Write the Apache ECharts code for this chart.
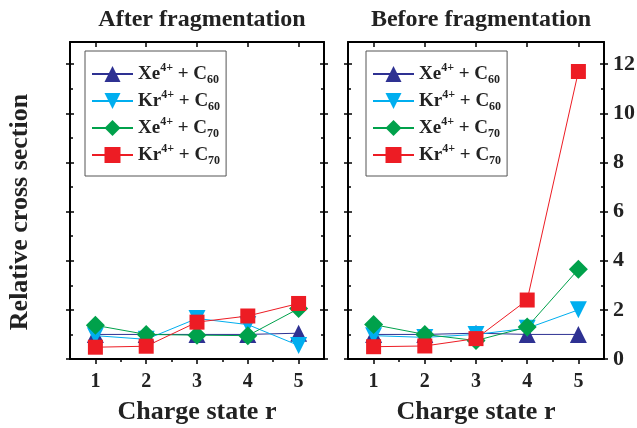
<!DOCTYPE html>
<html>
<head>
<meta charset="utf-8">
<script src="https://cdn.jsdelivr.net/npm/echarts@6/dist/echarts.min.js"></script>
<style>
  html, body { margin: 0; padding: 0; background: #fff; }
  #chart { width: 637px; height: 428px; }
</style>
</head>
<body>
<div id="chart"></div>
<script>
// data
var chargeStates = [1, 2, 3, 4, 5];
var xTickLabels = [1, 2, 3, 4, 5];
var yTickLabels = [0, 2, 4, 6, 8, 10, 12];
var seriesNames = ['Xe4+ + C60', 'Kr4+ + C60', 'Xe4+ + C70', 'Kr4+ + C70'];

// After fragmentation
var afterXeC60 = [1.0, 1.0, 1.0, 1.0, 1.05];
var afterKrC60 = [0.95, 0.8, 1.65, 1.4, 0.55];
var afterXeC70 = [1.37, 1.0, 0.97, 0.95, 2.05];
var afterKrC70 = [0.48, 0.52, 1.5, 1.75, 2.26];

// Before fragmentation
var beforeXeC60 = [1.0, 1.0, 1.05, 1.0, 1.0];
var beforeKrC60 = [0.95, 0.88, 1.0, 1.25, 2.0];
var beforeXeC70 = [1.4, 1.0, 0.75, 1.3, 3.65];
var beforeKrC70 = [0.5, 0.53, 0.83, 2.4, 11.7];

var myChart = echarts.init(document.getElementById('chart'));

var serifFont = '"Liberation Serif", "DejaVu Serif", serif';
var colors = ['#2e3192', '#00aeef', '#00a14b', '#ed1c24'];
var symbols = ['triangle', 'triangle', 'diamond', 'rect'];
var symbolSizes = [17, 17, 19, 15];
var rotations = [0, 180, 0, 0];

var xAxes = [];
var yAxes = [];

// builds the frame of one panel: 4 x axes and 6 y axes
var buildPanel = function(gi, rightLabels) {
  var minorX = [1.5, 2.5, 3.5, 4.5];
  var minorY = [1, 3, 5, 7, 9, 11];
  var lineSt = {color: '#000', width: 2};
  var tickSt = {color: '#000', width: 1.5};
  var base = function(extra) {
    var a = {gridIndex: gi, type: 'value', splitLine: {show: false},
      axisLine: {show: false}, axisLabel: {show: false}, axisTick: {show: false}};
    for (var k in extra) a[k] = extra[k];
    return a;
  };
  var xb = xAxes.length;
  xAxes.push(base({
    position: 'bottom', min: 0.5, max: 5.5,
    axisLine: {show: true, onZero: false, lineStyle: lineSt},
    axisTick: {show: true, customValues: chargeStates, length: 5, lineStyle: tickSt},
    axisLabel: {show: true, customValues: xTickLabels, margin: 13,
      fontFamily: serifFont, fontWeight: 'bold', fontSize: 20, color: '#222'},
    name: 'Charge state r', nameLocation: 'middle', nameGap: 40,
    nameTextStyle: {fontFamily: serifFont, fontWeight: 'bold', fontSize: 26, color: '#222'}
  }));
  xAxes.push(base({position: 'bottom', min: 0.5, max: 5.5,
    axisTick: {show: true, customValues: minorX, length: 3, lineStyle: tickSt}}));
  xAxes.push(base({position: 'top', min: 0.5, max: 5.5,
    axisLine: {show: true, onZero: false, lineStyle: lineSt},
    axisTick: {show: true, inside: true, customValues: chargeStates, length: 5, lineStyle: tickSt}}));
  xAxes.push(base({position: 'top', min: 0.5, max: 5.5,
    axisTick: {show: true, inside: true, customValues: minorX, length: 3, lineStyle: tickSt}}));

  var yl = yAxes.length;
  ['left', 'right'].forEach(function(pos) {
    yAxes.push(base({position: pos, min: 0, max: 12.9,
      axisLine: {show: true, onZero: false, lineStyle: lineSt},
      axisTick: {show: true, inside: true, customValues: yTickLabels, length: 4, lineStyle: tickSt}}));
    var outer = base({position: pos, min: 0, max: 12.9,
      axisTick: {show: true, customValues: yTickLabels, length: 4, lineStyle: tickSt}});
    if (pos === 'right' && rightLabels) {
      outer.axisLabel = {show: true, customValues: yTickLabels, margin: 9,
        fontFamily: serifFont, fontWeight: 'bold', fontSize: 22, color: '#222'};
    }
    yAxes.push(outer);
    yAxes.push(base({position: pos, min: 0, max: 12.9,
      axisTick: {show: true, inside: true, customValues: minorY, length: 3, lineStyle: tickSt}}));
  });
  return {x: xb, y: yl};
};

var leftIdx = buildPanel(0, false);
var rightIdx = buildPanel(1, true);

var makeSeries = function(idx, lists) {
  return lists.map(function(vals, i) {
    return {
      name: seriesNames[i],
      type: 'line',
      xAxisIndex: idx.x,
      yAxisIndex: idx.y,
      data: chargeStates.map(function(c, j) { return [c, vals[j]]; }),
      symbol: symbols[i],
      symbolSize: symbolSizes[i],
      symbolRotate: rotations[i],
      lineStyle: {color: colors[i], width: 1},
      itemStyle: {color: colors[i]},
      z: 2 + i
    };
  });
};

var legendFormatter = function(name) {
  var p = name.match(/^(\w+)(\d\+) \+ C(\d+)$/);
  return '{m|' + p[1] + '}{sup|' + p[2] + '}{m| + C}{sub|' + p[3] + '}';
};

var legendRich = {
  m: {fontFamily: serifFont, fontWeight: 'bold', fontSize: 19, color: '#222', lineHeight: 24},
  sup: {fontFamily: serifFont, fontWeight: 'bold', fontSize: 12, color: '#222', verticalAlign: 'top', lineHeight: 24, padding: [0, 0, 10, 0]},
  sub: {fontFamily: serifFont, fontWeight: 'bold', fontSize: 12, color: '#222', verticalAlign: 'bottom', lineHeight: 24, padding: [8, 0, 0, 0]}
};

var makeLegend = function(left) {
  return {
    orient: 'vertical',
    left: left, top: 51,
    data: seriesNames,
    itemWidth: 41, itemHeight: 20, itemGap: 3,
    padding: [11, 6, 9, 6],
    borderColor: '#555', borderWidth: 1,
    formatter: legendFormatter,
    textStyle: {rich: legendRich},
    selectedMode: false
  };
};

option = {
  animation: false,
  backgroundColor: '#fff',
  title: [
    {text: 'After fragmentation', left: 197, top: 3, textAlign: 'center',
      textStyle: {fontFamily: serifFont, fontWeight: 'bold', fontSize: 24, color: '#222'}},
    {text: 'Before fragmentation', left: 476, top: 3, textAlign: 'center',
      textStyle: {fontFamily: serifFont, fontWeight: 'bold', fontSize: 24, color: '#222'}}
  ],
  graphic: [{
    type: 'text', x: 20, y: 212, rotation: Math.PI / 2,
    style: {text: 'Relative cross section', fontFamily: serifFont, fontWeight: 'bold',
      fontSize: 26, fill: '#222', align: 'center', verticalAlign: 'middle'}
  }],
  legend: [makeLegend(85), makeLegend(366)],
  grid: [
    {left: 70, width: 254, top: 42, bottom: 69, outerBoundsMode: 'none'},
    {left: 348, width: 256, top: 42, bottom: 69, outerBoundsMode: 'none'}
  ],
  xAxis: xAxes,
  yAxis: yAxes,
  series: makeSeries(leftIdx, [afterXeC60, afterKrC60, afterXeC70, afterKrC70])
    .concat(makeSeries(rightIdx, [beforeXeC60, beforeKrC60, beforeXeC70, beforeKrC70]))
};

myChart.setOption(option);
</script>
</body>
</html>
